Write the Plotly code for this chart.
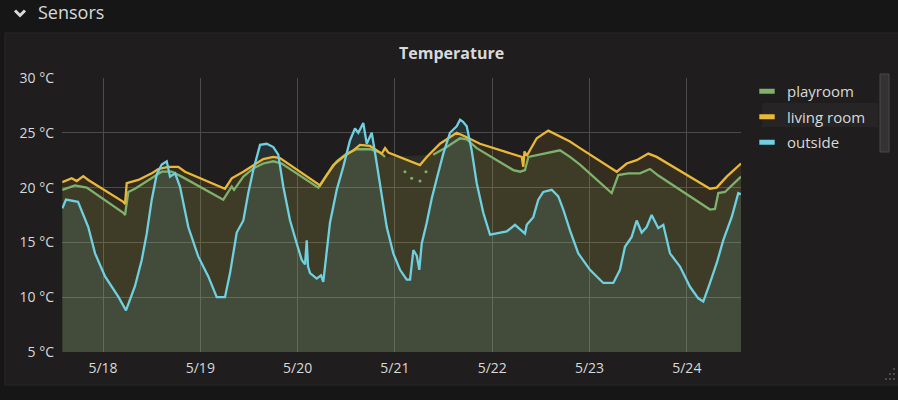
import plotly.graph_objects as go

# ---------------- data ----------------
outside_time = [
    "2018-05-17 13:58", "2018-05-17 14:52", "2018-05-17 17:50", "2018-05-17 20:22", "2018-05-17 22:02",
    "2018-05-18 00:30", "2018-05-18 03:46", "2018-05-18 05:40", "2018-05-18 07:53", "2018-05-18 09:33",
    "2018-05-18 10:47", "2018-05-18 12:01", "2018-05-18 13:15", "2018-05-18 14:29", "2018-05-18 15:43",
    "2018-05-18 16:32", "2018-05-18 17:46", "2018-05-18 18:59", "2018-05-18 21:02", "2018-05-18 23:31",
    "2018-05-19 01:58", "2018-05-19 04:03", "2018-05-19 06:05", "2018-05-19 07:20", "2018-05-19 08:59",
    "2018-05-19 10:37", "2018-05-19 11:50", "2018-05-19 13:04", "2018-05-19 14:44", "2018-05-19 16:23",
    "2018-05-19 18:00", "2018-05-19 19:14", "2018-05-19 20:28", "2018-05-19 22:08", "2018-05-19 23:47",
    "2018-05-20 01:01", "2018-05-20 01:50", "2018-05-20 02:15", "2018-05-20 02:34", "2018-05-20 03:04",
    "2018-05-20 04:43", "2018-05-20 05:46", "2018-05-20 06:20", "2018-05-20 07:11", "2018-05-20 07:59",
    "2018-05-20 09:39", "2018-05-20 11:16", "2018-05-20 12:55", "2018-05-20 14:09", "2018-05-20 14:58",
    "2018-05-20 16:12", "2018-05-20 17:03", "2018-05-20 18:17", "2018-05-20 19:31", "2018-05-20 20:45",
    "2018-05-20 21:59", "2018-05-20 23:36", "2018-05-21 01:15", "2018-05-21 02:55", "2018-05-21 03:44",
    "2018-05-21 04:33", "2018-05-21 05:23", "2018-05-21 06:01", "2018-05-21 06:37", "2018-05-21 07:51",
    "2018-05-21 09:05", "2018-05-21 10:19", "2018-05-21 11:56", "2018-05-21 13:35", "2018-05-21 15:14",
    "2018-05-21 16:04", "2018-05-21 16:48", "2018-05-21 17:43", "2018-05-21 18:56", "2018-05-21 20:11",
    "2018-05-21 21:48", "2018-05-21 23:28", "2018-05-22 01:07", "2018-05-22 03:35", "2018-05-22 05:37",
    "2018-05-22 06:52", "2018-05-22 08:05", "2018-05-22 08:31", "2018-05-22 10:08", "2018-05-22 11:22",
    "2018-05-22 12:36", "2018-05-22 14:41", "2018-05-22 16:18", "2018-05-22 17:32", "2018-05-22 19:11",
    "2018-05-22 21:14", "2018-05-23 00:07", "2018-05-23 03:24", "2018-05-23 05:52", "2018-05-23 07:31",
    "2018-05-23 08:45", "2018-05-23 10:24", "2018-05-23 11:38", "2018-05-23 12:52", "2018-05-23 14:06",
    "2018-05-23 15:20", "2018-05-23 16:58", "2018-05-23 18:12", "2018-05-23 19:51", "2018-05-23 22:19",
    "2018-05-24 00:47", "2018-05-24 02:50", "2018-05-24 04:04", "2018-05-24 05:43", "2018-05-24 07:22",
    "2018-05-24 09:00", "2018-05-24 11:04", "2018-05-24 12:42", "2018-05-24 13:22",
]
outside_temp = [
    18.1, 18.9, 18.7, 16.4, 14.0,
    11.9, 10.05, 8.8, 11.0, 13.4,
    15.8, 18.9, 21.2, 22.1, 22.4,
    21.0, 21.3, 20.1, 16.4, 13.7,
    11.9, 10.0, 10.0, 12.2, 15.9,
    17.0, 19.5, 21.6, 23.9, 24.0,
    23.7, 23.0, 20.1, 17.0, 14.9,
    13.4, 13.0, 15.2, 12.8, 12.2,
    11.7, 12.0, 11.4, 14.3, 16.8,
    19.8, 21.9, 24.3, 25.4, 25.0,
    25.9, 24.0, 25.0, 22.2, 19.5,
    16.4, 14.0, 12.5, 11.6, 11.6,
    14.3, 13.8, 12.5, 14.9, 16.8,
    19.0, 20.8, 23.1, 25.0, 25.6,
    26.2, 26.0, 25.6, 23.4, 20.4,
    17.7, 15.7, 15.8, 16.0, 16.6,
    16.2, 15.8, 16.6, 17.3, 18.9,
    19.6, 19.8, 19.2, 18.0, 16.1,
    14.0, 12.5, 11.3, 11.3, 12.5,
    14.6, 15.5, 17.0, 15.9, 16.4,
    17.5, 16.3, 16.6, 14.0, 12.8,
    10.95, 9.9, 9.6, 11.3, 13.1,
    15.2, 17.3, 19.5, 19.4,
]

living_time = [
    "2018-05-17 13:58", "2018-05-17 16:17", "2018-05-17 17:31", "2018-05-17 19:08", "2018-05-17 20:22",
    "2018-05-18 05:00", "2018-05-18 05:26", "2018-05-18 05:51", "2018-05-18 08:42", "2018-05-18 12:01",
    "2018-05-18 13:38", "2018-05-18 16:06", "2018-05-18 18:34", "2018-05-18 20:14", "2018-05-19 06:05",
    "2018-05-19 07:45", "2018-05-19 10:37", "2018-05-19 13:04", "2018-05-19 15:32", "2018-05-19 18:00",
    "2018-05-19 19:39", "2018-05-20 05:32", "2018-05-20 07:11", "2018-05-20 08:48", "2018-05-20 11:16",
    "2018-05-20 13:44", "2018-05-20 15:23", "2018-05-20 17:51", "2018-05-20 20:45", "2018-05-20 21:34",
    "2018-05-20 22:22", "2018-05-21 06:11", "2018-05-21 07:51", "2018-05-21 11:07", "2018-05-21 15:14",
    "2018-05-21 17:43", "2018-05-21 20:59", "2018-05-22 01:56", "2018-05-22 07:17", "2018-05-22 07:40",
    "2018-05-22 07:58", "2018-05-22 08:31", "2018-05-22 10:59", "2018-05-22 13:50", "2018-05-22 16:43",
    "2018-05-22 19:11", "2018-05-22 21:39", "2018-05-23 06:43", "2018-05-23 09:10", "2018-05-23 11:38",
    "2018-05-23 14:30", "2018-05-23 16:34", "2018-05-24 05:43", "2018-05-24 07:22", "2018-05-24 09:50",
    "2018-05-24 13:22",
]
living_temp = [
    20.5, 20.85, 20.6, 21.05, 20.7,
    18.7, 18.5, 20.4, 20.7, 21.3,
    21.7, 21.9, 21.9, 21.45, 19.9,
    20.85, 21.45, 22.06, 22.6, 22.8,
    22.7, 20.2, 21.15, 22.06, 22.8,
    23.4, 23.9, 23.8, 23.1, 23.6,
    23.2, 22.06, 22.8, 24.0, 25.0,
    24.6, 24.0, 23.4, 22.8, 21.9,
    23.3, 22.9, 24.5, 25.2, 24.65,
    24.2, 23.6, 21.45, 22.2, 22.5,
    23.1, 22.8, 19.9, 20.0, 21.0,
    22.2,
]

playroom_time = [
    "2018-05-17 13:58", "2018-05-17 17:05", "2018-05-17 19:59", "2018-05-18 05:00", "2018-05-18 05:26",
    "2018-05-18 06:14", "2018-05-18 07:53", "2018-05-18 12:01", "2018-05-18 14:29", "2018-05-18 16:57",
    "2018-05-18 19:25", "2018-05-19 05:40", "2018-05-19 07:45", "2018-05-19 08:19", "2018-05-19 10:37",
    "2018-05-19 13:04", "2018-05-19 15:32", "2018-05-19 18:00", "2018-05-19 20:05", "2018-05-20 05:07",
    "2018-05-20 07:11", "2018-05-20 09:39", "2018-05-20 12:07", "2018-05-20 14:35", "2018-05-20 17:51",
    "2018-05-20 20:20", "2018-05-20 21:34", "2018-05-21 01:00", "2018-05-21 09:25", "2018-05-21 12:47",
    "2018-05-21 16:04", "2018-05-21 17:43", "2018-05-21 20:11", "2018-05-22 05:13", "2018-05-22 06:52",
    "2018-05-22 08:05", "2018-05-22 08:55", "2018-05-22 11:47", "2018-05-22 16:43", "2018-05-22 19:11",
    "2018-05-22 21:39", "2018-05-23 05:28", "2018-05-23 07:06", "2018-05-23 09:34", "2018-05-23 12:27",
    "2018-05-23 14:55", "2018-05-23 16:58", "2018-05-24 05:43", "2018-05-24 06:57", "2018-05-24 07:46",
    "2018-05-24 09:25", "2018-05-24 13:22",
]
playroom_temp = [
    19.8, 20.2, 20.0, 17.7, 17.5,
    19.6, 19.9, 20.85, 21.45, 21.45,
    21.0, 18.9, 20.1, 19.8, 21.0,
    21.75, 22.2, 22.4, 22.2, 20.0,
    21.15, 22.4, 23.1, 23.5, 23.5,
    23.2, 22.8, None, 23.0, 23.7,
    24.5, 24.4, 23.6, 21.6, 21.45,
    21.6, 22.8, 23.0, 23.4, 22.8,
    22.1, 19.5, 21.15, 21.3, 21.3,
    21.7, 21.1, 18.0, 18.05, 19.5,
    19.6, 21.0,
]
# isolated playroom readings during the gap
playroom_dot_time = ["2018-05-21 02:29", "2018-05-21 04:08", "2018-05-21 06:11", "2018-05-21 07:40"]
playroom_dot_temp = [21.45, 20.85, 20.6, 21.45]

series_names = ["playroom", "living room", "outside"]
series_colors = ["#7EB26D", "#EAB839", "#6ED0E0"]
y_ticks = [5, 10, 15, 20, 25, 30]
y_labels = ["5 °C", "10 °C", "15 °C", "20 °C", "25 °C", "30 °C"]
x_ticks = ["2018-05-18", "2018-05-19", "2018-05-20", "2018-05-21", "2018-05-22", "2018-05-23", "2018-05-24"]
x_labels = ["5/18", "5/19", "5/20", "5/21", "5/22", "5/23", "5/24"]

# ---------------- figure ----------------
PAGE_BG = "#161616"
PANEL_BG = "#1f1d1d"
TEXT = "#d8d9da"
FONT = "Open Sans"


def rgba(hex_color, a):
    h = hex_color.lstrip("#")
    r, g, b = int(h[0:2], 16), int(h[2:4], 16), int(h[4:6], 16)
    return f"rgba({r},{g},{b},{a})"


fig = go.Figure()

data = [
    (playroom_time, playroom_temp),
    (living_time, living_temp),
    (outside_time, outside_temp),
]

# fills (area to zero)
for (t, v), c in zip(data, series_colors):
    fig.add_trace(go.Scatter(
        x=t, y=v, mode="lines", line=dict(width=0, color=c),
        fill="tozeroy", fillcolor=rgba(c, 0.11), connectgaps=True,
        showlegend=False, hoverinfo="skip",
    ))

# lines
for (t, v), c, n in zip(data, series_colors, series_names):
    fig.add_trace(go.Scatter(
        x=t, y=v, mode="lines", line=dict(width=2.3, color=c),
        connectgaps=False, name=n, showlegend=False,
    ))

fig.add_trace(go.Scatter(
    x=playroom_dot_time, y=playroom_dot_temp, mode="markers",
    marker=dict(size=3, color=series_colors[0]), showlegend=False,
))

# legend entries
for c, n in zip(series_colors, series_names):
    fig.add_trace(go.Scatter(
        x=[None], y=[None], mode="markers", name=n, legendgroup=n,
        marker=dict(symbol="line-ew", size=11, line=dict(width=5, color=c), color=c),
    ))

L, R, T, B = 62, 157, 78, 48
W, H = 898, 400
pw, ph = W - L - R, H - T - B


def px(x):
    return (x - L) / pw


def py(y):
    return (H - B - y) / ph


shapes = [
    # panel
    dict(type="rect", xref="paper", yref="paper", x0=px(5), x1=px(910), y0=py(385), y1=py(33),
         fillcolor=PANEL_BG, line=dict(color="#282828", width=1), layer="below"),
    # legend hover highlight
    dict(type="rect", xref="paper", yref="paper", x0=px(762), x1=px(878), y0=py(127), y1=py(103),
         fillcolor="#262424", line=dict(width=0), layer="below"),
    # legend scrollbar
    dict(type="rect", xref="paper", yref="paper", x0=px(880), x1=px(889), y0=py(152), y1=py(74),
         fillcolor="#333333", line=dict(color="#4a4a4a", width=1)),
    # chevron
    dict(type="path", xref="paper", yref="paper",
         path=f"M {px(15)},{py(10.5)} L {px(20)},{py(15.5)} L {px(25)},{py(10.5)}",
         line=dict(color=TEXT, width=3)),
]
# resize handle dots
for dx, dy in [(894, 369), (890, 374), (894, 374), (886, 379), (890, 379), (894, 379)]:
    shapes.append(dict(type="rect", xref="paper", yref="paper",
                       x0=px(dx - 1), x1=px(dx + 1), y0=py(dy + 1), y1=py(dy - 1),
                       fillcolor="#4a4a4a", line=dict(width=0)))

annotations = [
    dict(text="Sensors", xref="paper", yref="paper", x=px(36), y=py(12), xanchor="left", yanchor="middle",
         showarrow=False, font=dict(family=FONT, size=18, color=TEXT)),
    dict(text="<b>Temperature</b>", xref="paper", yref="paper", x=px(451), y=py(53),
         xanchor="center", yanchor="middle", showarrow=False,
         font=dict(family=FONT, size=16, color=TEXT)),
]

fig.update_layout(
    width=W, height=H,
    margin=dict(l=L, r=R, t=T, b=B),
    paper_bgcolor=PAGE_BG,
    plot_bgcolor="rgba(0,0,0,0)",
    font=dict(family=FONT, size=14, color=TEXT),
    shapes=shapes,
    annotations=annotations,
    showlegend=True,
    legend=dict(
        x=px(747), y=py(75), xanchor="left", yanchor="top",
        font=dict(family=FONT, size=15, color=TEXT),
        bgcolor="rgba(0,0,0,0)", traceorder="grouped", tracegroupgap=3,
        itemclick=False, itemdoubleclick=False,
    ),
    xaxis=dict(
        type="date",
        range=["2018-05-17 13:53", "2018-05-24 13:22"],
        tickvals=x_ticks, ticktext=x_labels,
        showgrid=True, gridcolor="#4b4b4b", gridwidth=1,
        zeroline=False, showline=False, ticks="",
        ticklabelstandoff=6,
        tickfont=dict(family=FONT, size=14, color=TEXT),
    ),
    yaxis=dict(
        range=[5, 30], tickvals=y_ticks, ticktext=y_labels,
        showgrid=True, gridcolor="#4b4b4b", gridwidth=1,
        zeroline=False, showline=False, ticks="",
        ticklabelstandoff=7,
        tickfont=dict(family=FONT, size=14, color=TEXT),
    ),
    hovermode=False,
)

fig.write_html(
    "out.html",
    config={"displayModeBar": False},
    post_script="document.body.style.margin='0';document.body.style.background='#161616';",
)
